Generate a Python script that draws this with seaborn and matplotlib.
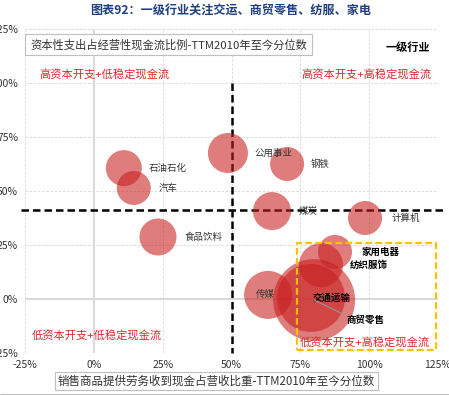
import matplotlib
matplotlib.use("Agg")
import matplotlib.pyplot as plt
import matplotlib.patches as mpatches
from matplotlib.lines import Line2D
import seaborn as sns
import pandas as pd
from matplotlib.ticker import FuncFormatter

# ---------------- data ----------------
industries = ["石油石化", "汽车", "公用事业", "钢铁", "煤炭", "计算机",
              "食品饮料", "传媒", "交通运输", "商贸零售", "纺织服饰", "家用电器"]
cash_pct = [10.9, 14.5, 48.7, 70.2, 64.7, 98.5, 23.3, 63.3, 78.9, 80.0, 82.5, 87.6]
capex_pct = [60.6, 51.4, 67.6, 62.5, 40.7, 37.5, 28.7, 1.9, 0.5, -0.5, 15.7, 21.8]
bubble_weight = [324, 289, 400, 289, 361, 289, 342, 576, 1156, 1681, 484, 289]
highlight = ["交通运输", "商贸零售", "纺织服饰", "家用电器"]

x_ticks = [-25, 0, 25, 50, 75, 100, 125]
y_ticks = [-25, 0, 25, 50, 75, 100, 125]
x_split = 50
y_split = 41

title = "图表92：一级行业关注交运、商贸零售、纺服、家电"
ylabel_txt = "资本性支出占经营性现金流比例-TTM2010年至今分位数"
xlabel_txt = "销售商品提供劳务收到现金占营收比重-TTM2010年至今分位数"
legend_title = "一级行业"
quad_labels = ["高资本开支+低稳定现金流", "高资本开支+高稳定现金流",
               "低资本开支+低稳定现金流", "低资本开支+高稳定现金流"]

df = pd.DataFrame({"行业": industries, "x": cash_pct, "y": capex_pct, "w": bubble_weight})

# ---------------- style ----------------
sns.set_theme(style="white")
plt.rcParams["font.family"] = ["Noto Sans CJK SC", "DejaVu Sans"]
plt.rcParams["axes.unicode_minus"] = False

fig = plt.figure(figsize=(4.49, 3.95), dpi=100)
ax = fig.add_axes([25 / 449, 1 - 353 / 395, 413 / 449, 324 / 395])

wmax = max(bubble_weight)
sns.scatterplot(data=df, x="x", y="y", size="w", sizes=(0, wmax * 2.0736),
                size_norm=(0, wmax), color="#c81e1e", alpha=0.58,
                edgecolor="none", legend=False, ax=ax, zorder=3)

ax.set_xlim(-25, 125)
ax.set_ylim(-25, 125)
ax.set_xticks(x_ticks)
ax.set_yticks(y_ticks)
fmt = FuncFormatter(lambda v, p: f"{v:.0f}%")
ax.xaxis.set_major_formatter(fmt)
ax.yaxis.set_major_formatter(fmt)
ax.tick_params(axis="both", length=0, labelsize=7.5, colors="#333333")
ax.tick_params(axis="x", pad=5)
ax.tick_params(axis="y", pad=5)
ax.set_xlabel("")
ax.set_ylabel("")
for s in ax.spines.values():
    s.set_visible(False)
ax.grid(True, ls=(0, (3, 2)), color="#d6d6d6", lw=0.6, zorder=0)
ax.axhline(0, color="#d9d9d9", lw=1.4, zorder=1)
ax.axvline(0, color="#d9d9d9", lw=1.4, zorder=1)

# split lines
ax.plot([x_split, x_split], [100, -25], color="black", lw=1.8,
        ls=(0, (3, 1.6)), zorder=2, clip_on=False)
ax.plot([-26.5, 127], [y_split, y_split], color="black", lw=1.8,
        ls=(0, (3, 1.6)), zorder=2, clip_on=False)

# highlight box
ax.add_patch(mpatches.Rectangle((73.8, -23.6), 50.6, 49.5, fill=False,
                                ec="#ffc000", lw=1.6, ls=(0, (3, 1.5)), zorder=4,
                                clip_on=False))

# bubble labels
offsets = {"石油石化": (18, 0), "汽车": (18, 0), "公用事业": (19, 0), "钢铁": (17, 0),
           "煤炭": (19, 0), "计算机": (19, 0), "食品饮料": (19, 0), "传媒": (-9, 0),
           "交通运输": (1, 0), "商贸零售": (23, -14), "纺织服饰": (21, 0),
           "家用电器": (19, 0)}
for name, xv, yv in zip(industries, cash_pct, capex_pct):
    dx, dy = offsets[name]
    bold = name in highlight
    kw = {}
    if name == "商贸零售":
        kw["arrowprops"] = dict(arrowstyle="-", color="#999999", lw=0.8,
                                shrinkA=0, shrinkB=0, relpos=(0, 0.9))
    ax.annotate(name, (xv, yv), xytext=(dx, dy), textcoords="offset points",
                ha="left", va="center", fontsize=6.8,
                fontweight="bold" if bold else "normal",
                color="black" if bold else "#333333", zorder=6, **kw)

# quadrant labels
qc = "#e0262b"
qfs = 8.1
ax.text(4, 103.7, quad_labels[0], color=qc, fontsize=qfs, ha="center", va="center")
ax.text(99, 103.7, quad_labels[1], color=qc, fontsize=qfs, ha="center", va="center")
ax.text(1, -17, quad_labels[2], color=qc, fontsize=qfs, ha="center", va="center")
ax.text(98.5, -20.4, quad_labels[3], color=qc, fontsize=qfs, ha="center", va="center", zorder=6)

# titles / axis label boxes
fig.text(231 / 449, 1 - 11 / 395, title, ha="center", va="center", fontsize=8.7,
         fontweight="bold", color="#1f3f7f")
fig.text(30 / 449, 1 - 44.5 / 395, ylabel_txt, ha="left", va="center", fontsize=8.15,
         color="#333333",
         bbox=dict(boxstyle="square,pad=0.45", fc="white", ec="#bfbfbf", lw=0.8))
fig.text(58 / 449, 1 - 381 / 395, xlabel_txt, ha="left", va="center", fontsize=8.3,
         color="#333333",
         bbox=dict(boxstyle="square,pad=0.25", fc="white", ec="#bfbfbf", lw=0.8))
fig.text(408 / 449, 1 - 47 / 395, legend_title, ha="center", va="center", fontsize=8,
         fontweight="bold", color="black")

fig.add_artist(Line2D([0, 1], [1.5 / 395, 1.5 / 395], color="#bfbfbf", lw=0.8))

fig.savefig("out.png", dpi=100)
